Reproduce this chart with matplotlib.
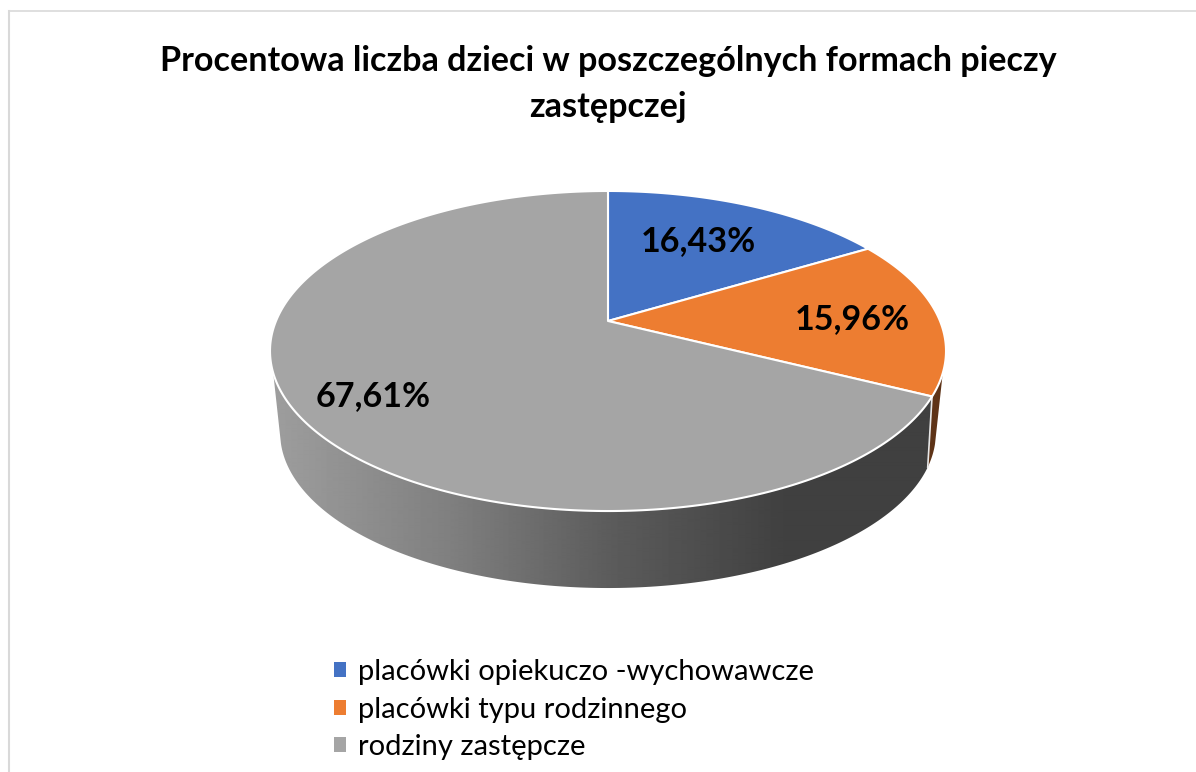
import numpy as np
import matplotlib
matplotlib.use("Agg")
import matplotlib.pyplot as plt
from matplotlib.patches import Patch, Polygon

# data
title = "Procentowa liczba dzieci w poszczególnych formach pieczy\nzastępczej"
categories = ["placówki opiekuczo -wychowawcze", "placówki typu rodzinnego", "rodziny zastępcze"]
values = [16.43, 15.96, 67.61]
labels = ["16,43%", "15,96%", "67,61%"]
colors = ["#4472C4", "#ED7D31", "#A5A5A5"]

plt.rcParams["font.family"] = ["Lato", "DejaVu Sans"]

W, H = 1196, 772
fig = plt.figure(figsize=(W / 100, H / 100), dpi=100)
ax = fig.add_axes([0, 0, 1, 1])
ax.set_xlim(0, W)
ax.set_ylim(H, 0)
ax.axis("off")

# perspective of the pie disc, angle clockwise from the top
CX, CY, A, B, K = 608, 321, 332, 154.4, 0.1875
# bottom rim of the wall
SCALE, CY2, TWIST = 0.97, 403.7, 0.068


def top_rim(t):
    w = 1 + K * np.cos(t)
    return CX + A * np.sin(t) / w, CY - B * np.cos(t) / w


def bottom_rim(t):
    t = t - TWIST * np.sin(t)
    w = 1 + K * np.cos(t)
    return CX + SCALE * A * np.sin(t) / w, CY2 - SCALE * B * np.cos(t) / w


def wall(t0, t1, face=None):
    ts = np.linspace(t0, t1, 200)
    x1, y1 = top_rim(ts)
    x2, y2 = bottom_rim(ts)
    pts = np.column_stack([np.r_[x1, x2[::-1]], np.r_[y1, y2[::-1]]])
    if face is not None:
        ax.add_patch(Polygon(pts, closed=True, fc=face, ec="none", zorder=2))
    return pts


edges = np.r_[0, np.cumsum(values)] / 100 * 2 * np.pi

# visible part of the wall, where the rim is below this angle
wall_start = np.deg2rad(108.5)
wall_end = np.deg2rad(251.5)

# orange side
wall(wall_start, edges[2], "#5E3317")

# grey side with the shading from left to right
shade_x = [270, 450, 610, 790, 950]
shade_v = [0.62, 0.50, 0.36, 0.25, 0.25]
xs = np.arange(260, 960)
grad = np.interp(xs, shade_x, shade_v)[None, :]
im = ax.imshow(grad, extent=[260, 960, 600, 360], cmap="gray", vmin=0, vmax=1,
               aspect="auto", zorder=2, interpolation="bilinear")
clip = Polygon(wall(edges[2], wall_end), closed=True, transform=ax.transData)
im.set_clip_path(clip)
ax.set_xlim(0, W)
ax.set_ylim(H, 0)

# white line between the two sides
ax.plot([top_rim(edges[2])[0], bottom_rim(edges[2])[0]],
        [top_rim(edges[2])[1], bottom_rim(edges[2])[1]], color="#E8E8E8", lw=1.2, zorder=3)

# top faces
for i in range(3):
    ts = np.linspace(edges[i], edges[i + 1], 300)
    x, y = top_rim(ts)
    ax.add_patch(Polygon(np.column_stack([np.r_[CX, x], np.r_[CY, y]]), closed=True,
                         fc=colors[i], ec="white", lw=1.5, zorder=4, joinstyle="round"))

# data labels
label_x = [698, 852, 373]
label_y = [241, 319, 396]
for lx, ly, s in zip(label_x, label_y, labels):
    ax.text(lx, ly, s, ha="center", va="center", fontsize=24.6, fontweight="bold", color="black", zorder=5)

ax.text(608, 84, title, ha="center", va="center", fontsize=24.6, fontweight="bold",
        color="black", linespacing=1.52)

handles = [Patch(fc=c, ec="none") for c in colors]
leg = ax.legend(handles, categories, loc="upper left", bbox_to_anchor=(334, 659),
                bbox_transform=ax.transData, frameon=False, fontsize=21,
                handlelength=0.41, handleheight=0.41, handletextpad=0.41,
                labelspacing=0.4, borderpad=0, borderaxespad=0)

# chart frame, only left and top show in the crop
ax.plot([9, 9], [H, 10.5], color="#D9D9D9", lw=1.5, zorder=1)
ax.plot([9, W], [10.5, 10.5], color="#D9D9D9", lw=1.2, zorder=1)

fig.savefig("out.png", dpi=100)
